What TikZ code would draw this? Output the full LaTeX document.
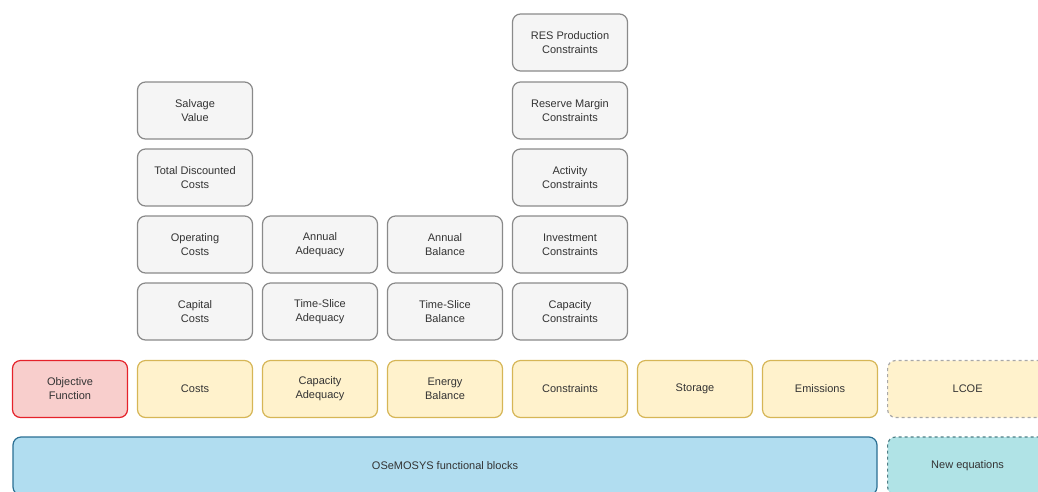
\documentclass[tikz,border=0pt]{standalone}
\usepackage{fontspec}
\setmainfont{Liberation Sans}
\definecolor{txt}{HTML}{333333}
\definecolor{greyfill}{HTML}{F5F5F5}
\definecolor{greyline}{HTML}{8A8A8A}
\definecolor{yelfill}{HTML}{FFF2CC}
\definecolor{yelline}{HTML}{D6B656}
\definecolor{redfill}{HTML}{F8CECC}
\definecolor{redline}{HTML}{E5222A}
\definecolor{bluefill}{HTML}{B1DDF0}
\definecolor{blueline}{HTML}{2A6F93}
\definecolor{tealfill}{HTML}{B0E3E6}
\definecolor{tealline}{HTML}{4F7F86}
\definecolor{dashline}{HTML}{A8A8A8}

\tikzstyle{block} = [rectangle,rounded corners=8pt,line width=1.2pt,minimum width=115pt,minimum height=57pt,
                     inner sep=0pt,align=center,font=\fontsize{11}{14}\selectfont,text=txt]
\tikzstyle{sub block} = [block,fill=greyfill,draw=greyline]
\tikzstyle{module} = [block,fill=yelfill,draw=yelline]
\tikzstyle{new module} = [block,fill=yelfill,draw=dashline,dashed,minimum width=160pt]
\tikzstyle{objective} = [block,fill=redfill,draw=redline]
\tikzstyle{base} = [block,fill=bluefill,draw=blueline,minimum width=864pt,minimum height=58pt]
\tikzstyle{new base} = [block,fill=tealfill,draw=tealline,dashed,minimum width=160pt,minimum height=58pt]

\begin{document}
\begin{tikzpicture}[x=1pt,y=-1pt]
\useasboundingbox (0,0) rectangle (1038,491);
% function row
\node[objective] (OBJ) at (70,389) {Objective\\Function};
\foreach \pos/\name/\label in {{(195,389)/COST/Costs}, {(320,389)/CAP/Capacity\\Adequacy},
                               {(445,389)/EB/Energy\\Balance}, {(570,389)/CON/Constraints},
                               {(695,389)/STO/Storage}, {(820,389)/EMI/Emissions}}{
  \node[module] (\name) at \pos {\label};
}
\node[new module,anchor=west] (LCOE) at (887,389) {LCOE};
% sub blocks
\foreach \pos/\name/\label in {{(195,311.5)/CC/Capital\\Costs}, {(195,244.5)/OC/Operating\\Costs},
                               {(195,177.5)/TDC/Total Discounted\\Costs}, {(195,110.5)/SV/Salvage\\Value},
                               {(320,311.5)/TSA/Time-Slice\\Adequacy}, {(320,244.5)/AA/Annual\\Adequacy},
                               {(445,311.5)/TSB/Time-Slice\\Balance}, {(445,244.5)/AB/Annual\\Balance},
                               {(570,311.5)/CAPC/Capacity\\Constraints}, {(570,244.5)/INVC/Investment\\Constraints},
                               {(570,177.5)/ACTC/Activity\\Constraints}, {(570,110.5)/RMC/Reserve Margin\\Constraints},
                               {(570,42.5)/RESC/RES Production\\Constraints}}{
  \node[sub block] (\name) at \pos {\label};
}
% base row
\node[base] (OSM) at (445,466) {OSeMOSYS functional blocks};
\node[new base,anchor=west] (NEQ) at (887,466) {New equations};
\end{tikzpicture}
\end{document}
